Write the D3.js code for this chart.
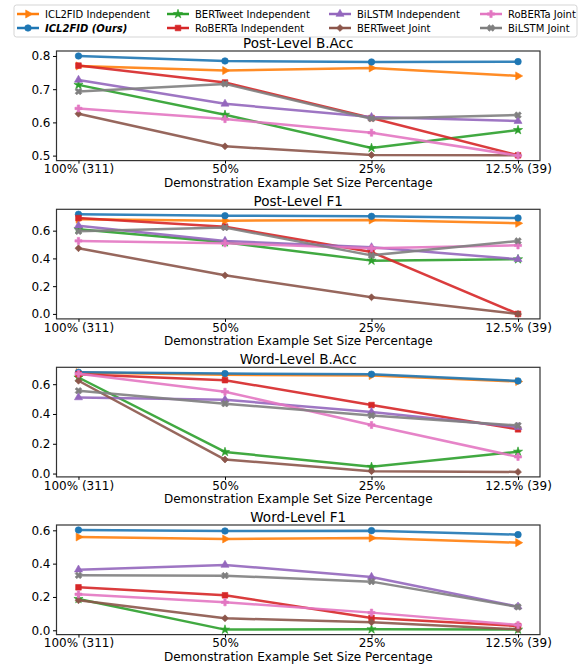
<!DOCTYPE html>
<html>
<head>
<meta charset="utf-8">
<script src="https://cdn.jsdelivr.net/npm/d3@7"></script>
<style>
  body { margin: 0; background: #fff; }
  svg { font-family: "DejaVu Sans", sans-serif; }
</style>
</head>
<body>
<svg id="chart" width="579" height="668"></svg>
<script>
// x categories
const categories = ["100% (311)", "50%", "25%", "12.5% (39)"];

// series, in plotting order
const seriesNames = ["ICL2FID Independent", "ICL2FID (Ours)", "BERTweet Independent", "RoBERTa Independent",
  "BiLSTM Independent", "BERTweet Joint", "RoBERTa Joint", "BiLSTM Joint"];
const seriesColors = ["#ff7f0e", "#1f77b4", "#2ca02c", "#d62728", "#9467bd", "#8c564b", "#e377c2", "#7f7f7f"];
const seriesMarkers = ["triRight", "circle", "star", "square", "triUp", "diamond", "plus", "x"];

// values per panel, one row per series (same order as seriesNames)
const postBAcc = [
  [0.770, 0.756, 0.764, 0.740],
  [0.800, 0.785, 0.782, 0.783],
  [0.713, 0.623, 0.523, 0.577],
  [0.771, 0.720, 0.613, 0.501],
  [0.728, 0.656, 0.616, 0.604],
  [0.626, 0.528, 0.502, 0.501],
  [0.642, 0.610, 0.569, 0.500],
  [0.693, 0.716, 0.611, 0.622]
];
const postF1 = [
  [0.682, 0.672, 0.677, 0.653],
  [0.718, 0.708, 0.703, 0.691],
  [0.610, 0.516, 0.384, 0.394],
  [0.691, 0.629, 0.446, 0.000],
  [0.636, 0.526, 0.480, 0.394],
  [0.473, 0.278, 0.120, 0.000],
  [0.526, 0.509, 0.473, 0.494],
  [0.595, 0.622, 0.422, 0.526]
];
const wordBAcc = [
  [0.678, 0.663, 0.658, 0.618],
  [0.680, 0.671, 0.667, 0.622],
  [0.645, 0.145, 0.045, 0.147],
  [0.667, 0.627, 0.460, 0.297],
  [0.511, 0.496, 0.413, 0.312],
  [0.623, 0.094, 0.016, 0.011],
  [0.670, 0.549, 0.326, 0.112],
  [0.556, 0.469, 0.390, 0.323]
];
const wordF1 = [
  [0.560, 0.548, 0.554, 0.526],
  [0.602, 0.596, 0.598, 0.574],
  [0.188, 0.004, 0.006, 0.004],
  [0.258, 0.210, 0.074, 0.026],
  [0.364, 0.392, 0.320, 0.142],
  [0.180, 0.072, 0.048, 0.006],
  [0.216, 0.168, 0.106, 0.032],
  [0.330, 0.328, 0.292, 0.140]
];

const panelTitles = ["Post-Level B.Acc", "Post-Level F1", "Word-Level B.Acc", "Word-Level F1"];
const panelData = [postBAcc, postF1, wordBAcc, wordF1];
const panelTicks = [[0.5, 0.6, 0.7, 0.8], [0.0, 0.2, 0.4, 0.6], [0.0, 0.2, 0.4, 0.6], [0.0, 0.2, 0.4, 0.6]];
const xLabel = "Demonstration Example Set Size Percentage";

const svg = d3.select("#chart");
const left = 56.5, right = 540;
const panelTops = [51, 209.3, 367.3, 525];
const panelH = 109.6;

var x = d3.scalePoint()
  .domain(categories)
  .range([left, right])
  .padding(0.15);

function markerPath(kind) {
  if (kind === "circle") return d3.symbol(d3.symbolCircle, 34)();
  if (kind === "square") return d3.symbol(d3.symbolSquare, 32)();
  if (kind === "star") return d3.symbol(d3.symbolStar, 26)();
  if (kind === "triUp" || kind === "triRight") return d3.symbol(d3.symbolTriangle, 28)();
  if (kind === "diamond") return d3.symbol(d3.symbolSquare, 24)();
  if (kind === "plus" || kind === "x") return d3.symbol(d3.symbolCross, 28)();
  return d3.symbol(d3.symbolCircle, 34)();
}
function markerRotate(kind) {
  if (kind === "triRight") return 90;
  if (kind === "diamond" || kind === "x") return 45;
  return 0;
}
function drawMarker(g, kind, cx, cy, color) {
  g.append("path")
    .attr("d", markerPath(kind))
    .attr("transform", `translate(${cx},${cy}) rotate(${markerRotate(kind)})`)
    .attr("fill", color)
    .attr("stroke", color)
    .attr("stroke-width", 0.6);
}

for (let p = 0; p < 4; p++) {
  const top = panelTops[p];
  const bottom = top + panelH;
  const data = panelData[p];
  const all = data.flat();
  let mn = d3.min(all), mx = d3.max(all);
  let pad = (mx - mn) * 0.05;
  var y = d3.scaleLinear().domain([mn - pad, mx + pad]).range([bottom, top]);

  const g = svg.append("g").attr("class", "panel");

  // lines and markers
  for (let s = 0; s < data.length; s++) {
    const color = seriesColors[s];
    const line = d3.line()
      .x((d, i) => x(categories[i]))
      .y(d => y(d));
    g.append("path")
      .datum(data[s])
      .attr("d", line)
      .attr("fill", "none")
      .attr("stroke", color)
      .attr("stroke-width", 2.5)
      .attr("stroke-opacity", 0.9)
      .attr("stroke-linejoin", "round");
    for (let i = 0; i < data[s].length; i++) {
      drawMarker(g, seriesMarkers[s], x(categories[i]), y(data[s][i]), color);
    }
  }

  // frame
  g.append("rect")
    .attr("x", left).attr("y", top)
    .attr("width", right - left).attr("height", panelH)
    .attr("fill", "none")
    .attr("stroke", "#333")
    .attr("stroke-width", 1.2);

  // axes
  var xAxis = d3.axisBottom(x).tickSize(3).tickPadding(1.2);
  var xAxisEl = g.append("g")
    .attr("transform", `translate(0,${bottom})`)
    .call(xAxis);
  var yAxis = d3.axisLeft(y).tickValues(panelTicks[p]).tickFormat(d3.format(".1f")).tickSize(3.5).tickPadding(2.5);
  var yAxisEl = g.append("g")
    .attr("transform", `translate(${left},0)`)
    .call(yAxis);
  [xAxisEl, yAxisEl].forEach(a => {
    a.select(".domain").remove();
    a.selectAll("text").attr("font-size", 12).attr("fill", "#000").attr("font-family", "DejaVu Sans");
    a.selectAll("line").attr("stroke", "#000");
  });

  g.append("text")
    .attr("x", (left + right) / 2)
    .attr("y", top - 3.5)
    .attr("text-anchor", "middle")
    .attr("font-size", 13.5)
    .text(panelTitles[p]);

  g.append("text")
    .attr("x", (left + right) / 2)
    .attr("y", bottom + 26)
    .attr("text-anchor", "middle")
    .attr("font-size", 12)
    .text(xLabel);
}

// legend
const legend = svg.append("g").attr("id", "legend");
legend.append("rect")
  .attr("x", 14).attr("y", 5)
  .attr("width", 563).attr("height", 32)
  .attr("rx", 2.5)
  .attr("fill", "#fff")
  .attr("fill-opacity", 0.8)
  .attr("stroke", "#d0d0d0")
  .attr("stroke-width", 0.9);
const colX = [17, 167, 329, 480];
const rowY = [14, 28];
for (let s = 0; s < seriesNames.length; s++) {
  const cx = colX[Math.floor(s / 2)];
  const cy = rowY[s % 2];
  legend.append("line")
    .attr("x1", cx).attr("x2", cx + 22)
    .attr("y1", cy).attr("y2", cy)
    .attr("stroke", seriesColors[s])
    .attr("stroke-width", 2.5);
  drawMarker(legend, seriesMarkers[s], cx + 11, cy, seriesColors[s]);
  const t = legend.append("text")
    .attr("x", cx + 28)
    .attr("y", cy + 3.6)
    .attr("font-size", 10)
    .text(seriesNames[s]);
  if (s === 1) t.attr("font-weight", "bold").attr("font-style", "italic");
}
</script>
</body>
</html>
